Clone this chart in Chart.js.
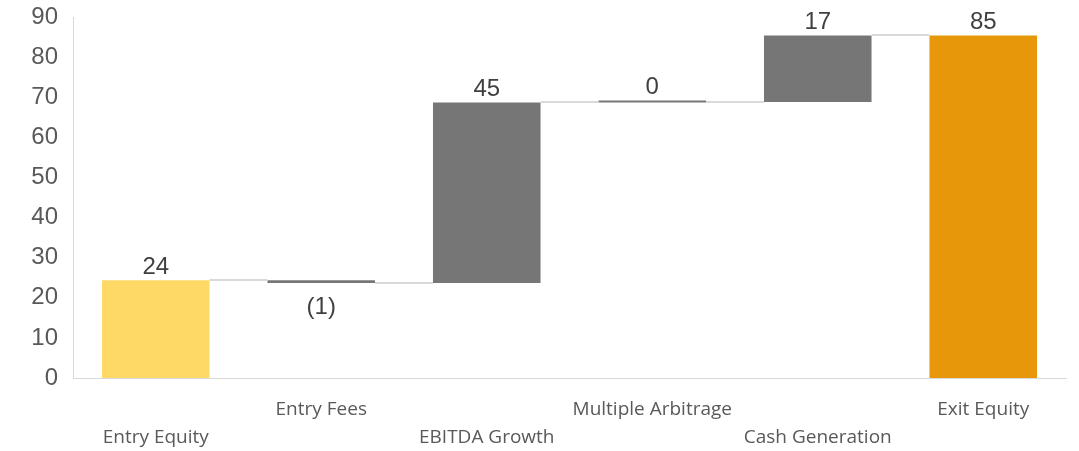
<!DOCTYPE html>
<html>
<head>
<meta charset="utf-8">
<script src="https://cdn.jsdelivr.net/npm/chart.js@4"></script>
<style>
  html, body { margin: 0; padding: 0; background: #fff; }
  #wrap { width: 1079px; height: 451px; }
</style>
</head>
<body>
<div id="wrap"><canvas id="bridge"></canvas></div>
<script>
// Equity bridge (waterfall)
const categories = ['Entry Equity', 'Entry Fees', 'EBITDA Growth', 'Multiple Arbitrage', 'Cash Generation', 'Exit Equity'];
const steps = [24.4, -0.7, 45.0, 0.1, 16.6, 85.4];
const isTotal = [true, false, false, false, false, true];
const barColors = ['#FFD966', '#767676', '#767676', '#767676', '#767676', '#E6980A'];
const yTicks = [0, 10, 20, 30, 40, 50, 60, 70, 80, 90];

// floating ranges built from the steps
let running = 0;
const ranges = [];
const levels = [];
steps.forEach(function (v, i) {
    if (isTotal[i]) {
        ranges.push([0, v]);
        running = v;
    } else {
        ranges.push([running, running + v]);
        running = running + v;
    }
    levels.push(running);
});

// staggered category labels, odd ones on the upper row
const tickLabels = categories.map(function (c, i) {
    return i % 2 === 0 ? ['', c] : [c, ''];
});

function fmt(v) {
    const r = Math.round(Math.abs(v));
    return v < 0 ? '(' + r + ')' : String(r);
}

const bridgeExtras = {
    id: 'bridgeExtras',
    afterDatasetsDraw: function (chart) {
        const ctx = chart.ctx;
        const meta = chart.getDatasetMeta(0);
        const ys = chart.scales.y;
        ctx.save();
        // connectors
        ctx.strokeStyle = '#D9D9D9';
        ctx.lineWidth = 2;
        for (let i = 0; i < meta.data.length - 1; i++) {
            const a = meta.data[i], b = meta.data[i + 1];
            const y = Math.round(ys.getPixelForValue(levels[i]));
            ctx.beginPath();
            ctx.moveTo(a.x + a.width / 2, y);
            ctx.lineTo(b.x - b.width / 2, y);
            ctx.stroke();
        }
        // value labels
        ctx.fillStyle = '#404040';
        ctx.font = '24px "Liberation Sans", Arial, sans-serif';
        ctx.textAlign = 'center';
        meta.data.forEach(function (bar, i) {
            const v = steps[i];
            const top = Math.min(bar.y, bar.base);
            const bottom = Math.max(bar.y, bar.base);
            if (v < 0) {
                ctx.textBaseline = 'top';
                ctx.fillText(fmt(v), bar.x, bottom + 12);
            } else {
                ctx.textBaseline = 'bottom';
                ctx.fillText(fmt(v), bar.x, top - 1);
            }
        });
        ctx.restore();
    }
};

new Chart(document.getElementById('bridge').getContext('2d'), {
    type: 'bar',
    data: {
        labels: tickLabels,
        datasets: [{
            data: ranges,
            backgroundColor: barColors,
            borderWidth: 0,
            borderSkipped: false,
            minBarLength: 2,
            barPercentage: 0.65,
            categoryPercentage: 1.0
        }]
    },
    options: {
        responsive: true,
        maintainAspectRatio: false,
        animation: false,
        layout: { padding: { top: 17, right: 13, left: 0, bottom: 0 } },
        plugins: {
            legend: { display: false },
            tooltip: { enabled: false }
        },
        scales: {
            x: {
                grid: { display: false, drawTicks: false },
                border: { color: '#D9D9D9', width: 1 },
                ticks: {
                    autoSkip: false,
                    maxRotation: 0,
                    padding: 18,
                    color: '#595959',
                    font: { family: '"Open Sans", sans-serif', size: 19, lineHeight: 1.47 }
                },
                afterFit: function (s) { s.height = 73; }
            },
            y: {
                min: 0,
                max: 90,
                afterBuildTicks: function (s) { s.ticks = yTicks.map(function (v) { return { value: v }; }); },
                grid: { display: false, drawTicks: false },
                border: { color: '#D9D9D9', width: 1 },
                ticks: {
                    padding: 15,
                    color: '#595959',
                    font: { family: '"Liberation Sans", Arial, sans-serif', size: 24 }
                },
                afterFit: function (s) {
                    s.width = 73;
                    s.paddingTop = 0;
                    s.paddingBottom = 0;
                }
            }
        }
    },
    plugins: [bridgeExtras]
});
</script>
</body>
</html>
